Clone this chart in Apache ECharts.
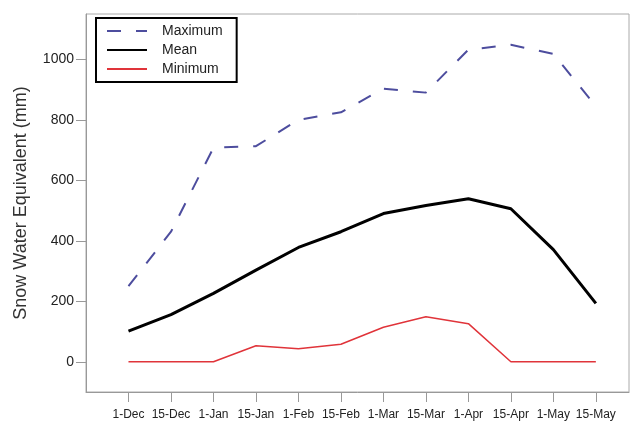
<!DOCTYPE html>
<html>
<head>
<meta charset="utf-8">
<script src="https://cdn.jsdelivr.net/npm/echarts@6/dist/echarts.min.js"></script>
<style>
	html, body { margin: 0; padding: 0; background: #fff; }
	#chart { width: 632px; height: 421px; }
</style>
</head>
<body>
<div id="chart"></div>
<script>
const categories = ['1-Dec','15-Dec','1-Jan','15-Jan','1-Feb','15-Feb','1-Mar','15-Mar','1-Apr','15-Apr','1-May','15-May'];
const maximum = [250, 430, 708, 713, 800, 825, 903, 890, 1032, 1048, 1018, 845];
const mean    = [101, 156, 226, 303, 378, 430, 490, 517, 539, 506, 371, 193];
const minimum = [0, 0, 0, 53, 43, 58, 114, 149, 126, 0, 0, 0];
const yTicks = [0, 200, 400, 600, 800, 1000];

const font = 'Liberation Sans, Arial, Helvetica, sans-serif';
const toPairs = arr => arr.map((v, i) => [i, v]);
const xTicks = categories.map((c, i) => i);

const chart = echarts.init(document.getElementById('chart'), null, {renderer: 'canvas'});

chart.setOption({
	animation: false,
	backgroundColor: '#fff',
	grid: {
		left: 86,
		right: 3,
		top: 14,
		bottom: 28,
		show: true,
		borderColor: '#aaa',
		borderWidth: 1
	},
	legend: {
		orient: 'vertical',
		left: 96,
		top: 18,
		data: ['Maximum', 'Mean', 'Minimum'],
		backgroundColor: '#fff',
		borderColor: '#000',
		borderWidth: 2,
		borderRadius: 0,
		padding: [6, 14, 6, 10],
		itemWidth: 40,
		itemHeight: 14,
		itemGap: 5,
		itemStyle: {opacity: 0},
		textStyle: {
			fontFamily: font,
			fontSize: 14,
			color: '#222',
			padding: [0, 0, 0, 10]
		}
	},
	xAxis: {
		type: 'value',
		min: -1,
		max: 11.78,
		splitLine: {show: false},
		axisLine: {show: true, onZero: false, lineStyle: {color: '#999', width: 1}},
		axisTick: {
			show: true,
			length: 10,
			customValues: xTicks,
			lineStyle: {color: '#999'}
		},
		axisLabel: {
			customValues: xTicks,
			formatter: v => categories[v] || '',
			fontFamily: font,
			fontSize: 12,
			color: '#222',
			margin: 17
		}
	},
	yAxis: {
		type: 'value',
		min: -100,
		max: 1150,
		name: 'Snow Water Equivalent (mm)',
		nameLocation: 'middle',
		nameGap: 56,
		nameTextStyle: {
			fontFamily: font,
			fontSize: 18,
			color: '#333'
		},
		splitLine: {show: false},
		axisLine: {show: true, onZero: false, lineStyle: {color: '#999', width: 1}},
		axisTick: {
			show: true,
			length: 10,
			customValues: yTicks,
			lineStyle: {color: '#999'}
		},
		axisLabel: {
			customValues: yTicks,
			formatter: v => String(v),
			fontFamily: font,
			fontSize: 14,
			color: '#222',
			margin: 12
		}
	},
	series: [
		{
			name: 'Maximum',
			type: 'line',
			data: toPairs(maximum),
			symbol: 'none',
			color: '#4d4d9e',
			lineStyle: {color: '#4d4d9e', width: 2, type: [14, 15]},
			z: 3
		},
		{
			name: 'Mean',
			type: 'line',
			data: toPairs(mean),
			symbol: 'none',
			color: '#000',
			lineStyle: {color: '#000', width: 3},
			z: 2
		},
		{
			name: 'Minimum',
			type: 'line',
			data: toPairs(minimum),
			symbol: 'none',
			color: '#e0343a',
			lineStyle: {color: '#e0343a', width: 1.5},
			z: 1
		}
	]
});
</script>
</body>
</html>
